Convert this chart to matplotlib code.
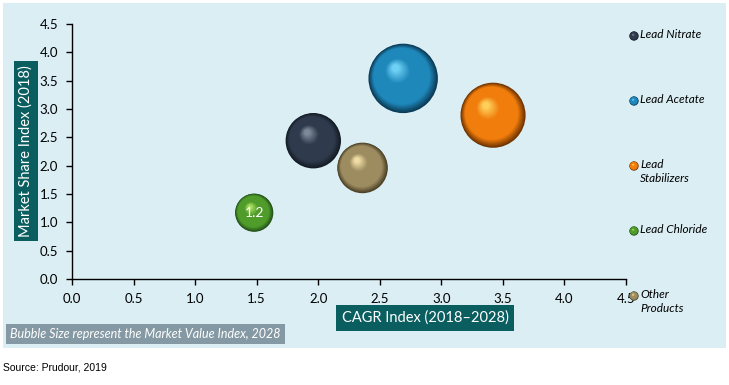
import matplotlib
matplotlib.use("Agg")
import matplotlib.pyplot as plt
import matplotlib.colors as mcolors
from matplotlib.patches import Rectangle
from matplotlib.transforms import ScaledTranslation
import numpy as np

# data
products = ["Lead Nitrate", "Lead Acetate", "Lead Stabilizers", "Lead Chloride", "Other Products"]
legend_labels = ["Lead Nitrate", "Lead Acetate", "Lead\nStabilizers", "Lead Chloride", "Other\nProducts"]
cagr = [1.96, 2.69, 3.42, 1.48, 2.36]
share = [2.44, 3.54, 2.89, 1.17, 1.96]
market_value = [2.1, 3.3, 2.9, 1.0, 1.75]
point_labels = ["", "", "", "1.2", ""]

# (dark rim, base, highlight)
palettes = [
    ("#141b25", "#2f3b4c", "#7d8898"),
    ("#0a3a55", "#1f88bb", "#6fd0f5"),
    ("#6e3300", "#f07d0c", "#ffcf5a"),
    ("#22501a", "#4f9c2b", "#a6dd5c"),
    ("#4a4026", "#9c8c60", "#f0dca4"),
]

ticks = [0.0, 0.5, 1.0, 1.5, 2.0, 2.5, 3.0, 3.5, 4.0, 4.5]
SIZE_SCALE = 757

TEAL = "#0b5e60"
PANEL = "#dbeef4"
NOTE_BG = "#8499a3"

fig = plt.figure(figsize=(7.29, 3.85), dpi=100)
fig.patch.set_facecolor("white")
fig.patches.append(Rectangle((3 / 729, 1 - 348 / 385), 723 / 729, 345 / 385,
                             transform=fig.transFigure, facecolor=PANEL,
                             edgecolor="none", zorder=-10))

ax = fig.add_axes([72 / 729, 1 - 279 / 385, 554 / 729, 255 / 385])
ax.set_zorder(1)
ax.set_facecolor("none")
ax.set_xlim(0, 4.5)
ax.set_ylim(0, 4.5)
ax.set_xticks(ticks)
ax.set_yticks(ticks)
ax.set_xticklabels([f"{t:.1f}" for t in ticks])
ax.set_yticklabels([f"{t:.1f}" for t in ticks])
for side in ("top", "right"):
    ax.spines[side].set_visible(False)
for side in ("left", "bottom"):
    ax.spines[side].set_color("black")
    ax.spines[side].set_linewidth(1.0)
ax.tick_params(direction="out", length=4, width=1, labelsize=9.5,
               colors="black", pad=6)
for lab in ax.get_xticklabels() + ax.get_yticklabels():
    lab.set_family("Lato")


def blend(c1, c2, t):
    a = np.array(mcolors.to_rgb(c1))
    b = np.array(mcolors.to_rgb(c2))
    return tuple(a + (b - a) * t)


def sphere(axis, x, y, s, pal, transform, zorder=3, layers=40):
    dark, base, light = pal
    r = np.sqrt(s) / 2  # radius in points
    for k in range(layers):
        t = k / (layers - 1)
        f = 1 - 0.9 * t
        if t < 0.2:
            col = blend(dark, base, t / 0.2)
        elif t < 0.7:
            col = base
        else:
            col = blend(base, light, (t - 0.7) / 0.3)
        dx = -0.22 * t * r
        dy = 0.30 * t * r
        tr = transform + ScaledTranslation(dx / 72, dy / 72, fig.dpi_scale_trans)
        axis.scatter([x], [y], s=s * f * f, color=col, edgecolors="none",
                     transform=tr, zorder=zorder + k * 0.001, clip_on=False)


for i, name in enumerate(products):
    sphere(ax, cagr[i], share[i], market_value[i] * SIZE_SCALE, palettes[i], ax.transData)
    if point_labels[i]:
        ax.text(cagr[i], share[i], point_labels[i], color="white", fontsize=10,
                family="Lato", ha="center", va="center", zorder=5)

# legend on the right
for i, lab in enumerate(legend_labels):
    ly = 1 - 36 / 385 - i * 65 / 385
    sphere(ax, 634 / 729, ly, 45, palettes[i], fig.transFigure, zorder=6, layers=12)
    fig.text(640 / 729, ly + 7 / 385, lab, fontsize=8.5, style="italic",
             family="Lato", color="black", ha="left", va="top", linespacing=1.35)

# axis titles in teal boxes
fig.text(26 / 729, 1 - 151 / 385, "Market Share Index (2018)", rotation=90,
         color="white", fontsize=10.5, family="Lato", ha="center", va="center",
         bbox=dict(boxstyle="square,pad=0.3", facecolor=TEAL, edgecolor="none"))
fig.text(425 / 729, 1 - 318 / 385, "CAGR Index (2018\u20132028)",
         color="white", fontsize=10.5, family="Lato", ha="center", va="center",
         bbox=dict(boxstyle="square,pad=0.4", facecolor=TEAL, edgecolor="none"))

fig.text(10 / 729, 1 - 334 / 385, "Bubble Size represent the Market Value Index, 2028",
         color="white", fontsize=9, style="italic", family="Lato",
         ha="left", va="center",
         bbox=dict(boxstyle="square,pad=0.35", facecolor=NOTE_BG, edgecolor="none"))

fig.text(3 / 729, 1 - 368 / 385, "Source: Prudour, 2019", fontsize=7.5,
         family="Liberation Sans", color="black", ha="left", va="center")

fig.savefig("out.png", dpi=100)
